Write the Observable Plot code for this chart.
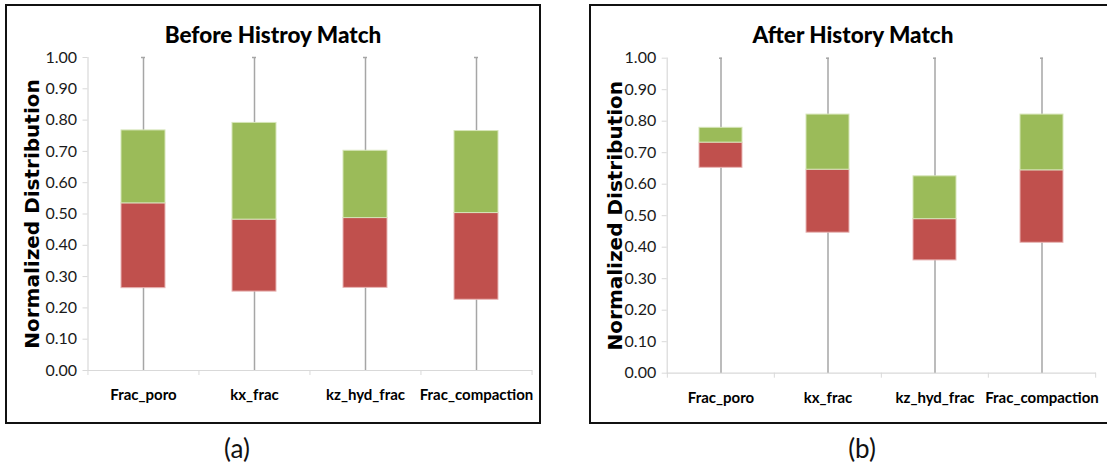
<!DOCTYPE html>
<html>
<head>
<meta charset="utf-8">
<script src="https://cdn.jsdelivr.net/npm/d3@7"></script>
<script src="https://cdn.jsdelivr.net/npm/@observablehq/plot@0.6"></script>
<style>
  body { margin: 0; background: #fff; }
  #page { position: relative; width: 1107px; height: 469px; overflow: hidden; background: #fff; }
  .frame { position: absolute; border: 2px solid #111; box-sizing: border-box; }
  .chart { position: absolute; top: 0; }
  .chart svg { overflow: visible; }
  .title {
    position: absolute; top: 20px; text-align: center; white-space: nowrap;
    font-family: Lato, "Liberation Sans", sans-serif;
    font-weight: 900; font-size: 22.5px; color: #000; line-height: 30px;
  }
  .caption {
    position: absolute; top: 430px; width: 80px; text-align: center;
    font-family: Lato, "Liberation Sans", sans-serif; font-size: 26px; color: #111; line-height: 36px;
  }
</style>
</head>
<body>
<div id="page"></div>
<script>
// Categories on the x axis
const categories = ["Frac_poro", "kx_frac", "kz_hyd_frac", "Frac_compaction"];

// Before history match: whisker ends, lower quartile, median, upper quartile
const beforeMin    = [0, 0, 0, 0];
const beforeQ1     = [0.263, 0.252, 0.264, 0.226];
const beforeMedian = [0.534, 0.482, 0.487, 0.503];
const beforeQ3     = [0.767, 0.791, 0.702, 0.765];
const beforeMax    = [1, 1, 1, 1];

// After history match
const afterMin    = [0, 0, 0, 0];
const afterQ1     = [0.652, 0.446, 0.358, 0.414];
const afterMedian = [0.732, 0.646, 0.489, 0.644];
const afterQ3     = [0.779, 0.821, 0.625, 0.821];
const afterMax    = [1, 1, 1, 1];

// Y tick values (labelled with two decimals)
const yTicks = [0, 0.1, 0.2, 0.3, 0.4, 0.5, 0.6, 0.7, 0.8, 0.9, 1.0];

const titles = ["Before Histroy Match", "After History Match"];
const captions = ["(a)", "(b)"];
const yLabel = "Normalized Distribution";

const RED = "#C0504D", GREEN = "#9BBB59", WHISKER = "#a6a6a6", AXIS = "#d9d9d9";
const SANS = 'Lato, "Liberation Sans", sans-serif';

function rows(min, q1, med, q3, max) {
  return categories.map((c, i) => ({cat: c, min: min[i], q1: q1[i], median: med[i], q3: q3[i], max: max[i]}));
}

function panel(data, L) {
  const plotW = L.width - L.marginLeft - L.marginRight;
  const step = plotW / categories.length;
  const last = categories[categories.length - 1];
  return Plot.plot({
    width: L.width,
    height: 469,
    marginLeft: L.marginLeft,
    marginRight: L.marginRight,
    marginTop: L.marginTop,
    marginBottom: L.marginBottom,
    style: {background: "transparent", overflow: "visible"},
    x: {domain: categories, paddingInner: 0.6, paddingOuter: 0.3},
    y: {domain: [0, 1]},
    marks: [
      // axis lines
      Plot.frame({anchor: "left", stroke: AXIS, strokeWidth: 1.2}),
      Plot.ruleY([0], {stroke: AXIS, strokeWidth: 1.2}),
      // y axis ticks and labels
      Plot.axisY({
        ticks: yTicks, tickFormat: d3.format(".2f"), tickSize: 5, tickPadding: 6,
        stroke: AXIS, fill: "#1a1a1a", fontSize: 16, fontFamily: SANS, label: null
      }),
      // category boundary ticks below the x axis
      Plot.axisX({tickSize: 5, tickFormat: () => "", dx: -step / 2, stroke: AXIS, label: null}),
      Plot.axisX({ticks: [last], tickSize: 5, tickFormat: () => "", dx: step / 2, stroke: AXIS, label: null}),
      // category labels
      Plot.axisX({
        tickSize: 0, tickPadding: 19, fill: "#000", fontSize: 15, fontWeight: "bold",
        fontFamily: SANS, label: null
      }),
      // y axis title
      Plot.text([yLabel], {
        frameAnchor: "left", textAnchor: "middle", rotate: -90, dx: L.labelDx, fontSize: 20, fontWeight: "bold",
        fontFamily: '"DejaVu Sans", Verdana, sans-serif', fill: "#000", text: d => d
      }),
      // whiskers
      Plot.ruleX(data, {x: "cat", y1: "min", y2: "max", stroke: WHISKER, strokeWidth: 1.5}),
      Plot.tickY(data, {x: "cat", y: "max", stroke: WHISKER, strokeWidth: 1.5, insetLeft: 20, insetRight: 20}),
      // lower half of box (Q1 to median) and upper half (median to Q3)
      Plot.barY(data, {x: "cat", y1: "q1", y2: "median", fill: RED, stroke: "#e8b6b5", strokeWidth: 1}),
      Plot.barY(data, {x: "cat", y1: "median", y2: "q3", fill: GREEN, stroke: "#d6e5b8", strokeWidth: 1})
    ]
  });
}

const page = document.getElementById("page");

const layouts = [
  {left: 0, width: 545, marginLeft: 87.5, marginRight: 13, marginTop: 57, marginBottom: 99, labelDx: -55.5,
   frame: {left: 5, top: 4, width: 536, height: 420}, titleCenter: 273, captionCenter: 237},
  {left: 550, width: 557, marginLeft: 116.7, marginRight: 11, marginTop: 57.7, marginBottom: 96.3, labelDx: -51.7,
   frame: {left: 589, top: 4, width: 540, height: 420}, titleCenter: 853, captionCenter: 862}
];

const datasets = [
  rows(beforeMin, beforeQ1, beforeMedian, beforeQ3, beforeMax),
  rows(afterMin, afterQ1, afterMedian, afterQ3, afterMax)
];

layouts.forEach((L, i) => {
  const frame = document.createElement("div");
  frame.className = "frame";
  Object.assign(frame.style, {
    left: L.frame.left + "px", top: L.frame.top + "px",
    width: L.frame.width + "px", height: L.frame.height + "px"
  });
  page.appendChild(frame);

  const holder = document.createElement("div");
  holder.className = "chart";
  holder.style.left = L.left + "px";
  holder.appendChild(panel(datasets[i], L));
  page.appendChild(holder);

  const title = document.createElement("div");
  title.className = "title";
  title.textContent = titles[i];
  title.style.left = (L.titleCenter - 200) + "px";
  title.style.width = "400px";
  page.appendChild(title);

  const cap = document.createElement("div");
  cap.className = "caption";
  cap.textContent = captions[i];
  cap.style.left = (L.captionCenter - 40) + "px";
  page.appendChild(cap);
});
</script>
</body>
</html>
